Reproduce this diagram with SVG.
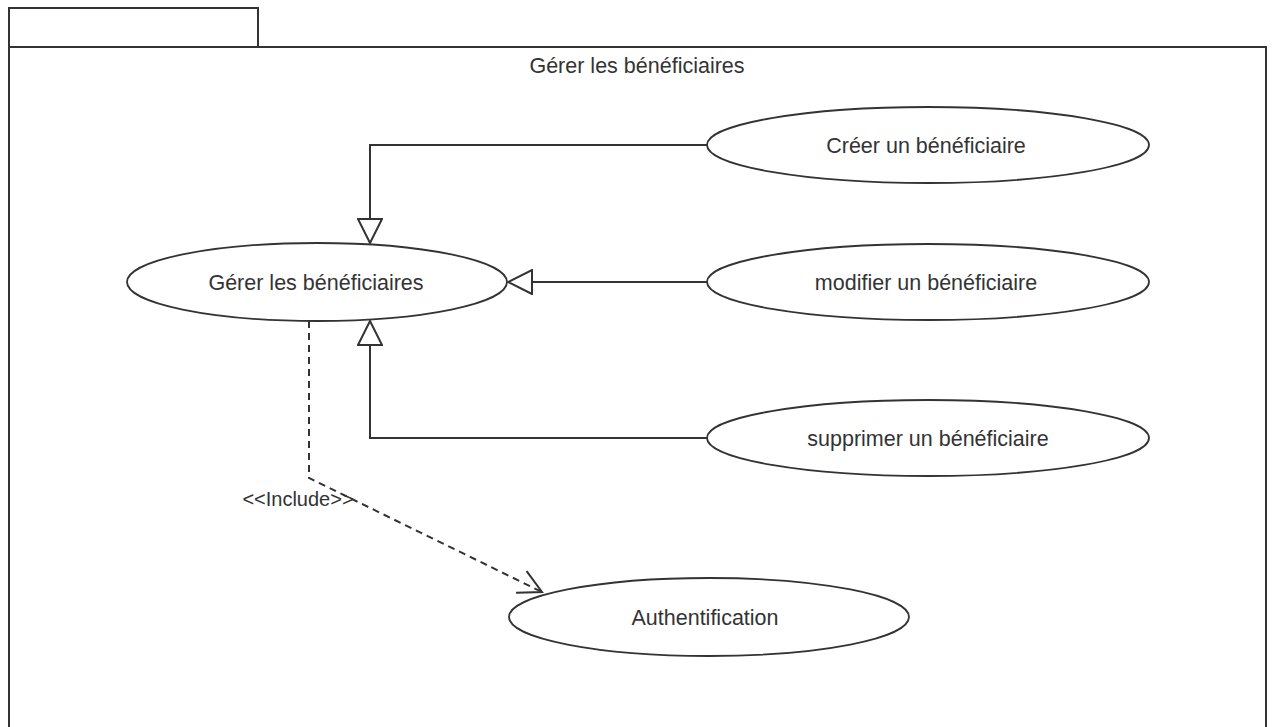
<svg xmlns="http://www.w3.org/2000/svg" width="1274" height="727" viewBox="0 0 1274 727">
  <style>
    .frame { fill: none; stroke: #333; stroke-width: 2; }
    .uc { fill: #fff; stroke: #333; stroke-width: 1.8; }
    .lbl { font-family: "Liberation Sans", Arial, sans-serif; font-size: 21.5px; fill: #333; text-anchor: middle; }
    .gen { fill: none; stroke: #333; stroke-width: 2; }
    .inc { fill: none; stroke: #333; stroke-width: 2; stroke-dasharray: 7 5; }
  </style>
  <defs>
    <marker id="hollow" viewBox="0 0 26 26" refX="25" refY="13" markerWidth="26" markerHeight="26" markerUnits="userSpaceOnUse" orient="auto">
      <path d="M1,1 L25,13 L1,25 Z" fill="#fff" stroke="#333" stroke-width="2"/>
    </marker>
    <marker id="open" viewBox="0 0 30 30" refX="28" refY="15" markerWidth="30" markerHeight="30" markerUnits="userSpaceOnUse" orient="auto">
      <path d="M5,3 L28,15 L5,27" fill="none" stroke="#333" stroke-width="2"/>
    </marker>
  </defs>

  <rect width="1274" height="727" fill="#fff"/>

  <!-- package frame -->
  <g id="package">
    <path class="frame" d="M9,47 V8 H258 V47"/>
    <path class="frame" d="M9,740 V47 H1266 V740"/>
    <text class="lbl" x="637" y="73">Gérer les bénéficiaires</text>
  </g>

  <!-- connectors -->
  <g id="connectors">
    <path class="gen" d="M707,145 H370 V243" marker-end="url(#hollow)"/>
    <path class="gen" d="M707,282 H508" marker-end="url(#hollow)"/>
    <path class="gen" d="M707,438 H370 V321" marker-end="url(#hollow)"/>
    <path class="inc" d="M309,321 V478 L542,592" marker-end="url(#open)"/>
    <text class="lbl" x="298" y="506" style="font-size:20px">&lt;&lt;Include&gt;&gt;</text>
  </g>

  <!-- use cases -->
  <g id="uc-gerer">
    <ellipse class="uc" cx="317" cy="282" rx="190" ry="39"/>
    <text class="lbl" x="316" y="290">Gérer les bénéficiaires</text>
  </g>
  <g id="uc-creer">
    <ellipse class="uc" cx="928" cy="145" rx="221" ry="38"/>
    <text class="lbl" x="926" y="153">Créer un bénéficiaire</text>
  </g>
  <g id="uc-modifier">
    <ellipse class="uc" cx="928" cy="282" rx="221" ry="38"/>
    <text class="lbl" x="926" y="290">modifier un bénéficiaire</text>
  </g>
  <g id="uc-supprimer">
    <ellipse class="uc" cx="928" cy="438" rx="221" ry="38"/>
    <text class="lbl" x="928" y="446">supprimer un bénéficiaire</text>
  </g>
  <g id="uc-auth">
    <ellipse class="uc" cx="709" cy="617" rx="200" ry="39"/>
    <text class="lbl" x="705" y="625">Authentification</text>
  </g>
</svg>
